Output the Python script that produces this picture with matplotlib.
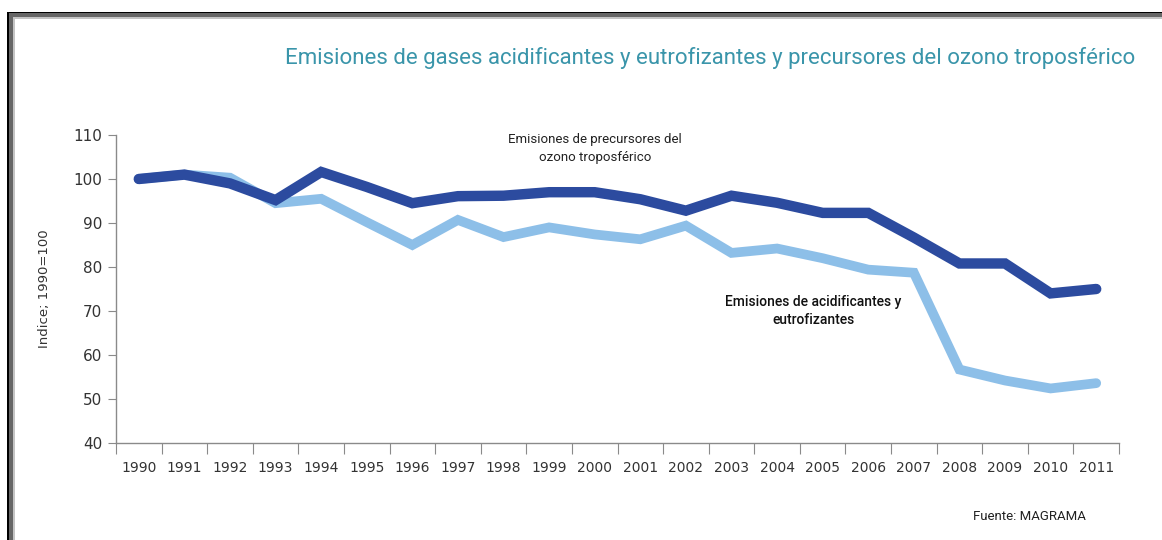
import numpy as np
import matplotlib.pyplot as plt
from matplotlib.patches import Rectangle

# ----------
#  DATA
# ----------
years = list(range(1990, 2012))
precursores_ozono = [100, 101, 99, 95.2, 101.6, 98.2, 94.5, 96.1, 96.2, 97, 97,
                     95.4, 92.8, 96.2, 94.6, 92.3, 92.3, 86.7, 80.8, 80.8, 74.0, 75.0]
acidificantes = [100, 101, 100.3, 94.5, 95.5, 90.2, 85.0, 90.7, 86.8, 89.0, 87.4,
                 86.3, 89.4, 83.2, 84.2, 82.0, 79.4, 78.7, 56.7, 54.2, 52.4, 53.6]

# ----------
#  CONFIG
# ----------
W, H = 1162, 540
color_dark = "#2c4b9f"
color_light = "#8dbfe8"
color_title = "#3a95aa"
color_text = "#333333"
color_axis = "#8a8a8a"


def px(x, y):
    # pixel position (from top-left) -> figure fraction
    return x / W, 1 - y / H


fig = plt.figure(figsize=(W / 100, H / 100), dpi=100)
fig.patch.set_facecolor("white")

left, bottom = px(116, 443)
right, top = px(1119, 135)
ax = fig.add_axes([left, bottom, right - left, top - bottom])

xc = np.arange(len(years)) + 0.5
ax.plot(xc, acidificantes, color=color_light, lw=7, solid_joinstyle="miter",
        solid_capstyle="round", zorder=2)
ax.plot(xc, precursores_ozono, color=color_dark, lw=7.5, solid_joinstyle="miter",
        solid_capstyle="round", zorder=3)

ax.set_xlim(0, len(years))
ax.set_ylim(40, 110)
ax.set_yticks(range(40, 111, 10))
ax.set_xticks(range(len(years) + 1))
ax.set_xticklabels([])
ax.set_xticks(xc, minor=True)
ax.set_xticklabels([str(y) for y in years], minor=True)
ax.tick_params(axis="x", which="major", length=8, color=color_axis, direction="out")
ax.tick_params(axis="x", which="minor", length=0, pad=13, labelsize=10,
               labelcolor=color_text)
ax.tick_params(axis="y", length=6, color=color_axis, labelsize=11,
               labelcolor=color_text, pad=4)

for side in ["top", "right"]:
    ax.spines[side].set_visible(False)
for side in ["left", "bottom"]:
    ax.spines[side].set_color(color_axis)
    ax.spines[side].set_linewidth(1)

ax.set_ylabel("Indice; 1990=100", fontsize=9.5, color=color_text, labelpad=16)

ax.text(10.5, 107, "Emisiones de precursores del\nozono troposférico",
        ha="center", va="center", fontsize=9.5, color="#222222",
        linespacing=1.5, family="Roboto")
ax.text(15.3, 70, "Emisiones de acidificantes y\neutrofizantes",
        ha="center", va="center", fontsize=10, color="#111111",
        fontweight="medium", linespacing=1.4, family="Roboto")

tx, ty = px(1135, 58)
fig.text(tx, ty, "Emisiones de gases acidificantes y eutrofizantes y precursores del ozono troposférico",
         ha="right", va="center", fontsize=16, color=color_title,
         family="Roboto", fontweight="normal")

sx, sy = px(1086, 516)
fig.text(sx, sy, "Fuente: MAGRAMA", ha="right", va="center", fontsize=9.5,
         color="#222222", family="Roboto")

# frame around the chart (left and top edges)
def frame_rect(x0, y0, x1, y1, color):
    fx0, fy1 = px(x0, y0)
    fx1, fy0 = px(x1, y1)
    fig.patches.append(Rectangle((fx0, fy0), fx1 - fx0, fy1 - fy0,
                                 transform=fig.transFigure, color=color,
                                 lw=0, zorder=10))

frame_rect(7, 12, W, 13, "#000000")
frame_rect(7, 12, 9, H, "#000000")
frame_rect(9, 13, W, 17, "#666666")
frame_rect(9, 13, 13, H, "#666666")
frame_rect(13, 17, W, 19, "#c4c4c4")
frame_rect(13, 17, 15, H, "#c4c4c4")

fig.savefig("out.png", dpi=100, facecolor="white")
